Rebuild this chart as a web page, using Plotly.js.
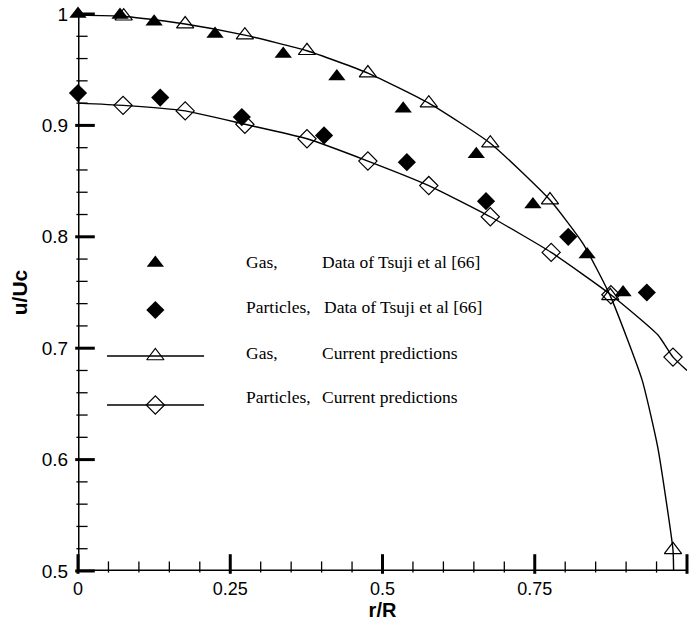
<!DOCTYPE html>
<html>
<head>
<meta charset="utf-8">
<script src="https://cdn.plot.ly/plotly-3.0.1.min.js"></script>
<style>html,body{margin:0;padding:0;background:#fff;}#chart{width:689px;height:621px;}</style>
</head>
<body>
<div id="chart"></div>
<script>
// ---- data ----
const gasDataR = [0, 0.069, 0.125, 0.225, 0.337, 0.425, 0.534, 0.654, 0.747, 0.836, 0.895];
const gasDataU = [1.0, 0.999, 0.993, 0.982, 0.964, 0.944, 0.915, 0.874, 0.829, 0.784, 0.750];

const partDataR = [0, 0.135, 0.269, 0.404, 0.540, 0.670, 0.805, 0.934];
const partDataU = [0.929, 0.925, 0.9075, 0.891, 0.867, 0.832, 0.800, 0.750];

const gasPredR = [0.075, 0.176, 0.274, 0.376, 0.476, 0.576, 0.677, 0.775, 0.874, 0.977];
const gasPredU = [0.998, 0.991, 0.981, 0.967, 0.947, 0.920, 0.884, 0.833, 0.747, 0.519];
const gasCurveR = [0, 0.075, 0.176, 0.274, 0.376, 0.476, 0.576, 0.677, 0.775, 0.829, 0.874, 0.926, 0.952, 0.977, 0.978];
const gasCurveU = [0.999, 0.998, 0.991, 0.981, 0.967, 0.947, 0.920, 0.884, 0.833, 0.794, 0.747, 0.672, 0.611, 0.519, 0.5];

const partPredR = [0.074, 0.176, 0.274, 0.376, 0.476, 0.576, 0.677, 0.777, 0.875, 0.977];
const partPredU = [0.918, 0.913, 0.901, 0.888, 0.868, 0.846, 0.818, 0.786, 0.748, 0.692];
const partCurveR = [0, 0.074, 0.176, 0.274, 0.376, 0.476, 0.576, 0.677, 0.777, 0.875, 0.952, 0.977, 1.0];
const partCurveU = [0.920, 0.918, 0.913, 0.901, 0.888, 0.868, 0.846, 0.818, 0.786, 0.748, 0.712, 0.692, 0.680];

const legendLabels = [
  ["Gas,", "Data of Tsuji et al [66]"],
  ["Particles,", "Data of Tsuji et al [66]"],
  ["Gas,", "Current predictions"],
  ["Particles,", "Current predictions"]
];
const xTickVals = [0, 0.25, 0.5, 0.75, 1];
const yTickVals = [0.5, 0.6, 0.7, 0.8, 0.9, 1];
const xMinorStep = 0.05, yMinorStep = 0.02;

// ---- layout ----
const W = 689, H = 621;
const margin = {l: 78, r: 2, t: 14, b: 50};
const xRange = [0, 1], yRange = [0.5, 1];
const pxX = (xRange[1] - xRange[0]) / (W - margin.l - margin.r); // data units per pixel
const pxY = (yRange[1] - yRange[0]) / (H - margin.t - margin.b);
const legRowY = [0.553, 0.4686, 0.386, 0.298];
const legTextY = [0.555, 0.474, 0.392, 0.312];
const legSymX = 0.127;
const legLineX = [0.0476, 0.207];
const legCol1X = 0.272;
const legCol2X = [0.397, 0.401, 0.397, 0.397];
const fx = f => xRange[0] + f * (xRange[1] - xRange[0]);
const fy = f => yRange[0] + f * (yRange[1] - yRange[0]);

const black = '#000';

// tick marks as line-shaped markers placed just inside the axes (positions from the tick arrays)
function tickMarks(axis, vals, lenPx, width) {
  const isX = axis === 'x';
  return {
    x: isX ? vals : vals.map(() => xRange[0] + (lenPx / 2) * pxX),
    y: isX ? vals.map(() => yRange[0] + (lenPx / 2) * pxY) : vals,
    mode: 'markers', cliponaxis: false, hoverinfo: 'skip',
    marker: {symbol: isX ? 'line-ns-open' : 'line-ew-open', size: lenPx, color: black, line: {color: black, width: width}}
  };
}
const minorVals = (range, step, majors) => {
  const out = [];
  for (let k = 0; range[0] + k * step <= range[1] + 1e-9; k++) {
    const v = +(range[0] + k * step).toFixed(4);
    if (!majors.includes(v)) out.push(v);
  }
  return out;
};

const curveLine = {color: black, width: 1.4, shape: 'spline', smoothing: 0.5};
const traces = [
  // axis frame
  {x: [xRange[0], xRange[1]], y: [yRange[0], yRange[0]], mode: 'lines', line: {color: black, width: 3}, cliponaxis: false, hoverinfo: 'skip'},
  {x: [xRange[0], xRange[0]], y: [yRange[0], yRange[1]], mode: 'lines', line: {color: black, width: 3}, cliponaxis: false, hoverinfo: 'skip'},
  tickMarks('x', minorVals(xRange, xMinorStep, xTickVals), 8, 1.3),
  tickMarks('y', minorVals(yRange, yMinorStep, yTickVals), 8, 1.3),
  tickMarks('x', xTickVals, 14, 3),
  tickMarks('y', yTickVals, 14, 3),
  // data
  {x: gasCurveR, y: gasCurveU, mode: 'lines', line: curveLine, hoverinfo: 'skip'},
  {x: partCurveR, y: partCurveU, mode: 'lines', line: curveLine, hoverinfo: 'skip'},
  {x: gasPredR, y: gasPredU, mode: 'markers', marker: {symbol: 'triangle-up-open', size: 15, color: black, line: {width: 1.2, color: black}}, cliponaxis: false},
  {x: partPredR, y: partPredU, mode: 'markers', marker: {symbol: 'diamond-open', size: 14, color: black, line: {width: 1.2, color: black}}, cliponaxis: false},
  {x: gasDataR, y: gasDataU, mode: 'markers', marker: {symbol: 'triangle-up', size: 15, color: black}, cliponaxis: false},
  {x: partDataR, y: partDataU, mode: 'markers', marker: {symbol: 'diamond', size: 14, color: black}, cliponaxis: false},
  // legend key symbols
  {x: [fx(legSymX)], y: [fy(legRowY[0])], mode: 'markers', marker: {symbol: 'triangle-up', size: 15, color: black}, hoverinfo: 'skip'},
  {x: [fx(legSymX)], y: [fy(legRowY[1])], mode: 'markers', marker: {symbol: 'diamond', size: 14, color: black}, hoverinfo: 'skip'},
  {x: legLineX.map(fx), y: [fy(legRowY[2]), fy(legRowY[2])], mode: 'lines', line: {color: black, width: 1.4}, hoverinfo: 'skip'},
  {x: [fx(legSymX)], y: [fy(legRowY[2])], mode: 'markers', marker: {symbol: 'triangle-up-open', size: 15, color: black, line: {width: 1.2}}, hoverinfo: 'skip'},
  {x: legLineX.map(fx), y: [fy(legRowY[3]), fy(legRowY[3])], mode: 'lines', line: {color: black, width: 1.4}, hoverinfo: 'skip'},
  {x: [fx(legSymX)], y: [fy(legRowY[3])], mode: 'markers', marker: {symbol: 'diamond-open', size: 14, color: black, line: {width: 1.2}}, hoverinfo: 'skip'}
];

const serif = {family: 'Liberation Serif, Times New Roman, serif', size: 17.5, color: black};
const annotations = [];
legendLabels.forEach((lab, i) => {
  annotations.push({xref: 'paper', yref: 'paper', x: legCol1X, y: legTextY[i], xanchor: 'left', yanchor: 'middle', text: lab[0], showarrow: false, font: serif});
  annotations.push({xref: 'paper', yref: 'paper', x: legCol2X[i], y: legTextY[i], xanchor: 'left', yanchor: 'middle', text: lab[1], showarrow: false, font: serif});
});

const sans = 'Liberation Sans, Arial, sans-serif';
const layout = {
  width: W, height: H,
  margin: margin,
  paper_bgcolor: '#fff', plot_bgcolor: '#fff',
  showlegend: false,
  xaxis: {
    range: xRange, tickmode: 'array', tickvals: xTickVals, ticktext: xTickVals.map(String),
    ticks: 'outside', ticklen: 1, tickcolor: 'rgba(0,0,0,0)',
    showline: false, showgrid: false, zeroline: false,
    tickfont: {family: sans, size: 18, color: black},
    title: {text: '<b>r/R</b>', font: {family: sans, size: 20, color: black}, standoff: 4}
  },
  yaxis: {
    range: yRange, tickmode: 'array', tickvals: yTickVals, ticktext: yTickVals.map(String),
    ticks: 'outside', ticklen: 5, tickcolor: 'rgba(0,0,0,0)',
    showline: false, showgrid: false, zeroline: false,
    tickfont: {family: sans, size: 19, color: black},
    title: {text: '<b>u/Uc</b>', font: {family: sans, size: 21, color: black}, standoff: 8}
  },
  annotations: annotations
};

Plotly.newPlot('chart', traces, layout, {staticPlot: true, displayModeBar: false});
</script>
</body>
</html>
